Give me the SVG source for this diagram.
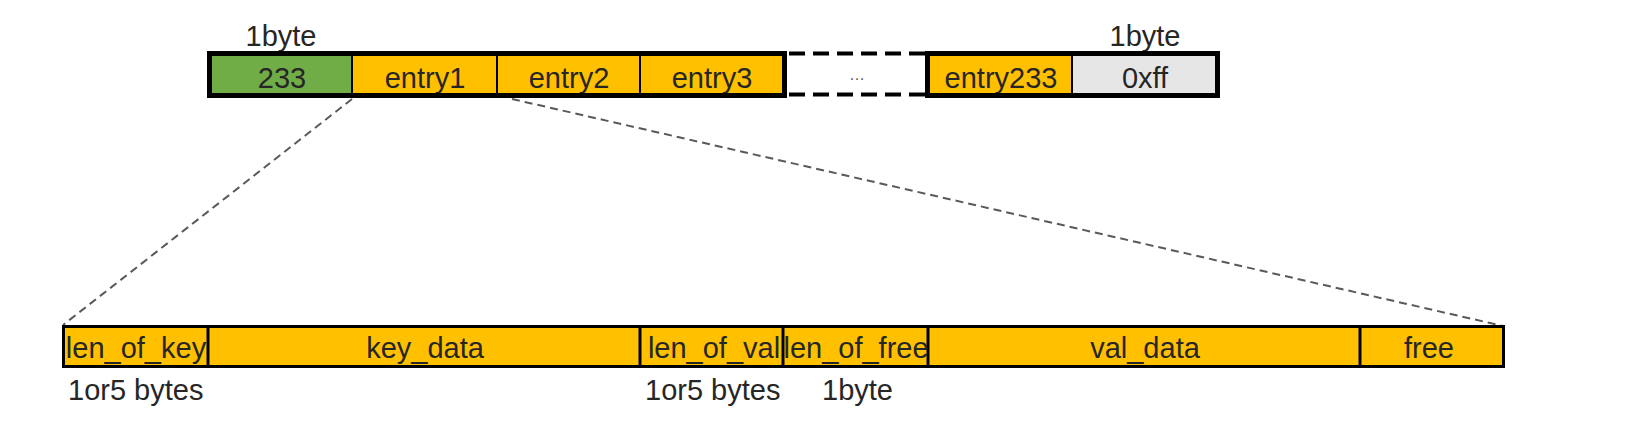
<svg xmlns="http://www.w3.org/2000/svg" width="1638" height="426" viewBox="0 0 1638 426">
<style>
text{font-family:"Liberation Sans",Arial,sans-serif;font-size:29px;fill:#262626}
.c{text-anchor:middle}
.cell{stroke:#000;stroke-width:2}
.g{fill:#70ad47}
.o{fill:#ffc000}
.l{fill:#e6e6e6}
.frame{fill:none;stroke:#000;stroke-width:5}
.bframe{fill:none;stroke:#000;stroke-width:3}
.div{stroke:#000;stroke-width:3}
.conn{fill:none;stroke:#595959;stroke-width:2;stroke-dasharray:8 5}
.gap{fill:none;stroke:#000;stroke-width:4;stroke-dasharray:16 8}
</style>
<rect width="1638" height="426" fill="#fff"/>
<g id="connectors">
<line class="conn" x1="352" y1="99" x2="63" y2="325"/>
<line class="conn" x1="512" y1="99" x2="1503" y2="326"/>
</g>
<g id="header-labels">
<text class="c" x="281" y="46">1byte</text>
<text class="c" x="1145" y="46">1byte</text>
</g>
<g id="n-233">
<rect class="cell g" x="209.5" y="53.5" width="142.5" height="42"/>
<text class="c" x="282" y="88">233</text>
</g>
<g id="n-entry1">
<rect class="cell o" x="352" y="53.5" width="145" height="42"/>
<text class="c" x="425" y="88">entry1</text>
</g>
<g id="n-entry2">
<rect class="cell o" x="497" y="53.5" width="143" height="42"/>
<text class="c" x="569" y="88">entry2</text>
</g>
<g id="n-entry3">
<rect class="cell o" x="640" y="53.5" width="144.5" height="42"/>
<text class="c" x="712" y="88">entry3</text>
</g>
<g id="frame-a"><rect class="frame" x="209.5" y="53.5" width="575" height="42"/></g>
<g id="n-gap">
<line class="gap" x1="789" y1="53.5" x2="925" y2="53.5"/>
<line class="gap" x1="789" y1="94.5" x2="925" y2="94.5"/>
<text class="c" x="857" y="80" style="font-size:16px;fill:#595959">…</text>
</g>
<g id="n-entry233">
<rect class="cell o" x="927.5" y="53.5" width="144.5" height="42"/>
<text class="c" x="1001" y="88">entry233</text>
</g>
<g id="n-0xff">
<rect class="cell l" x="1072" y="53.5" width="145.5" height="42"/>
<text class="c" x="1145" y="88">0xff</text>
</g>
<g id="frame-b"><rect class="frame" x="927.5" y="53.5" width="290" height="42"/></g>
<g id="entry-detail">
<rect class="o" x="63.5" y="326.5" width="1440" height="40"/>
<line class="div" x1="208" y1="326.5" x2="208" y2="366.5"/>
<line class="div" x1="640" y1="326.5" x2="640" y2="366.5"/>
<line class="div" x1="783" y1="326.5" x2="783" y2="366.5"/>
<line class="div" x1="928" y1="326.5" x2="928" y2="366.5"/>
<line class="div" x1="1360" y1="326.5" x2="1360" y2="366.5"/>
<rect class="bframe" x="63.5" y="326.5" width="1440" height="40"/>
</g>
<g id="n-len_of_key"><text class="c" x="136" y="358">len_of_key</text></g>
<g id="n-key_data"><text class="c" x="425" y="358">key_data</text></g>
<g id="n-len_of_val"><text class="c" x="714" y="358">len_of_val</text></g>
<g id="n-len_of_free"><text class="c" x="856" y="358">len_of_free</text></g>
<g id="n-val_data"><text class="c" x="1145" y="358">val_data</text></g>
<g id="n-free"><text class="c" x="1429" y="358">free</text></g>
<g id="size-labels">
<text x="68" y="400">1or5 bytes</text>
<text x="645" y="400">1or5 bytes</text>
<text x="822" y="400">1byte</text>
</g>
</svg>
